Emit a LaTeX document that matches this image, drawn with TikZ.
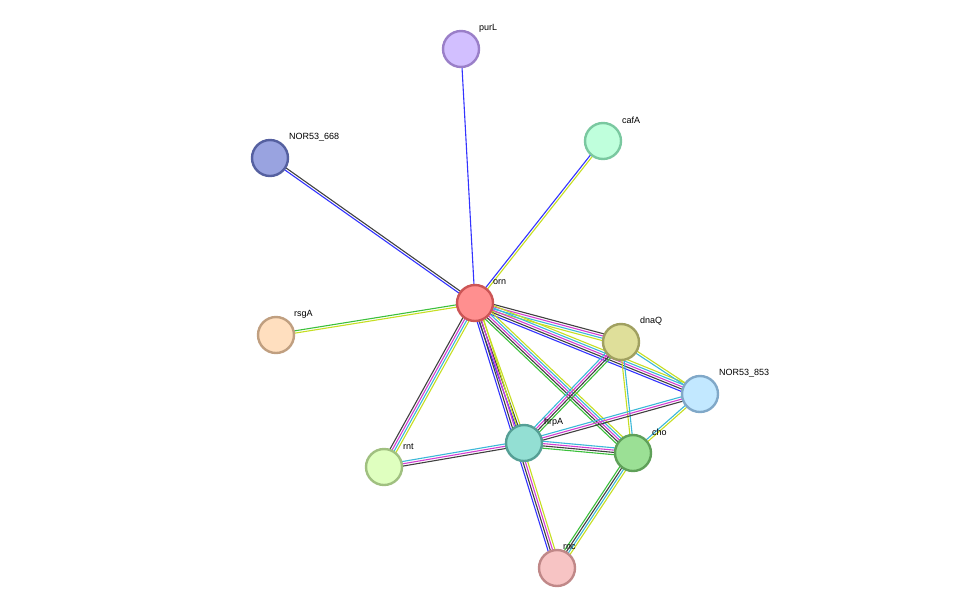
\documentclass[tikz,border=0pt]{standalone}
\usepackage{fontspec}
\setmainfont{Liberation Sans}
\usetikzlibrary{calc}
\pgfdeclarelayer{bg}
\pgfsetlayers{bg,main}
\definecolor{K}{HTML}{404040}
\definecolor{B}{HTML}{3333FF}
\definecolor{Y}{HTML}{C6DE22}
\definecolor{G}{HTML}{3CC03C}
\definecolor{M}{HTML}{D23FD2}
\definecolor{C}{HTML}{3CB8D8}
\definecolor{fpurL}{HTML}{D2BFFF}\definecolor{dpurL}{HTML}{9A7FC8}
\definecolor{fcafA}{HTML}{BFFFDC}\definecolor{dcafA}{HTML}{7AC8A0}
\definecolor{fnA}{HTML}{99A3E0}\definecolor{dnA}{HTML}{5560A0}
\definecolor{forn}{HTML}{FF8F8F}\definecolor{dorn}{HTML}{CC5555}
\definecolor{frsgA}{HTML}{FFDFBF}\definecolor{drsgA}{HTML}{C09F80}
\definecolor{fdnaQ}{HTML}{DFDF9A}\definecolor{ddnaQ}{HTML}{A0A060}
\definecolor{fnB}{HTML}{C2E8FF}\definecolor{dnB}{HTML}{80A8C8}
\definecolor{fhrpA}{HTML}{93DFD3}\definecolor{dhrpA}{HTML}{559F95}
\definecolor{fcho}{HTML}{9BE095}\definecolor{dcho}{HTML}{5FA059}
\definecolor{frnt}{HTML}{DFFFBF}\definecolor{drnt}{HTML}{A0C080}
\definecolor{frnc}{HTML}{F7C4C4}\definecolor{drnc}{HTML}{C08888}
\tikzset{
  prot/.style={circle,minimum size=36pt,inner sep=0pt,line width=2.4pt,fill=f#1,draw=d#1},
  lab/.style={anchor=west,font=\fontsize{9}{10}\selectfont,inner sep=0pt},
  ln/.style={line width=1.1pt}
}
\newcommand\edge[4]{%
  \foreach \c [count=\i] in {#4} {%
    \pgfmathsetmacro\o{(\i-(#3+1)/2)*2.3}%
    \draw[ln,\c] ($(#1.center)!\o pt!90:(#2.center)$) -- ($(#2.center)!\o pt!-90:(#1.center)$);
  }}
\begin{document}
\begin{tikzpicture}[x=1pt,y=-1pt]
\useasboundingbox (0,0) rectangle (976,614);
\node[prot=purL] (purL) at (461,49) {};
\node[prot=cafA] (cafA) at (603,141) {};
\node[prot=nA] (n668) at (270,158) {};
\node[prot=orn] (orn) at (475,303) {};
\node[prot=rsgA] (rsgA) at (276,335) {};
\node[prot=dnaQ] (dnaQ) at (621,342) {};
\node[prot=nB] (n853) at (700,394) {};
\node[prot=hrpA] (hrpA) at (524,443) {};
\node[prot=cho] (cho) at (633,453) {};
\node[prot=rnt] (rnt) at (384,467) {};
\node[prot=rnc] (rnc) at (557,568) {};
\node[lab] (lpurL) at (479,28) {purL};
\node[lab] (lcafA) at (622,120) {cafA};
\node[lab] (l668) at (289,137) {NOR53\_668};
\node[lab] (lorn) at (493,282) {orn};
\node[lab] (lrsgA) at (294,314) {rsgA};
\node[lab] (ldnaQ) at (640,321) {dnaQ};
\node[lab] (l853) at (719,373) {NOR53\_853};
\node[lab] (lhrpA) at (544,422) {hrpA};
\node[lab] (lcho) at (652,432) {cho};
\node[lab] (lrnt) at (403,447) {rnt};
\node[lab] (lrnc) at (563,547) {rnc};
\begin{pgfonlayer}{bg}
\edge{orn}{purL}{1}{B}
\edge{orn}{cafA}{2}{Y,B}
\edge{orn}{n668}{2}{K,B}
\edge{orn}{rsgA}{2}{G,Y}
\edge{orn}{rnt}{4}{K,M,C,Y}
\edge{orn}{hrpA}{3}{B,K,Y}
\edge{orn}{rnc}{4}{B,K,M,Y}
\edge{orn}{dnaQ}{4}{Y,C,M,K}
\edge{orn}{n853}{5}{B,K,M,C,Y}
\edge{orn}{cho}{5}{G,K,M,C,Y}
\edge{dnaQ}{hrpA}{4}{C,M,K,G}
\edge{dnaQ}{cho}{2}{Y,C}
\edge{dnaQ}{n853}{2}{C,Y}
\edge{hrpA}{n853}{3}{K,M,C}
\edge{hrpA}{cho}{4}{G,K,M,C}
\edge{hrpA}{rnt}{3}{C,M,K}
\edge{n853}{cho}{2}{C,Y}
\edge{cho}{rnc}{4}{G,K,C,Y}
\end{pgfonlayer}
\end{tikzpicture}
\end{document}
